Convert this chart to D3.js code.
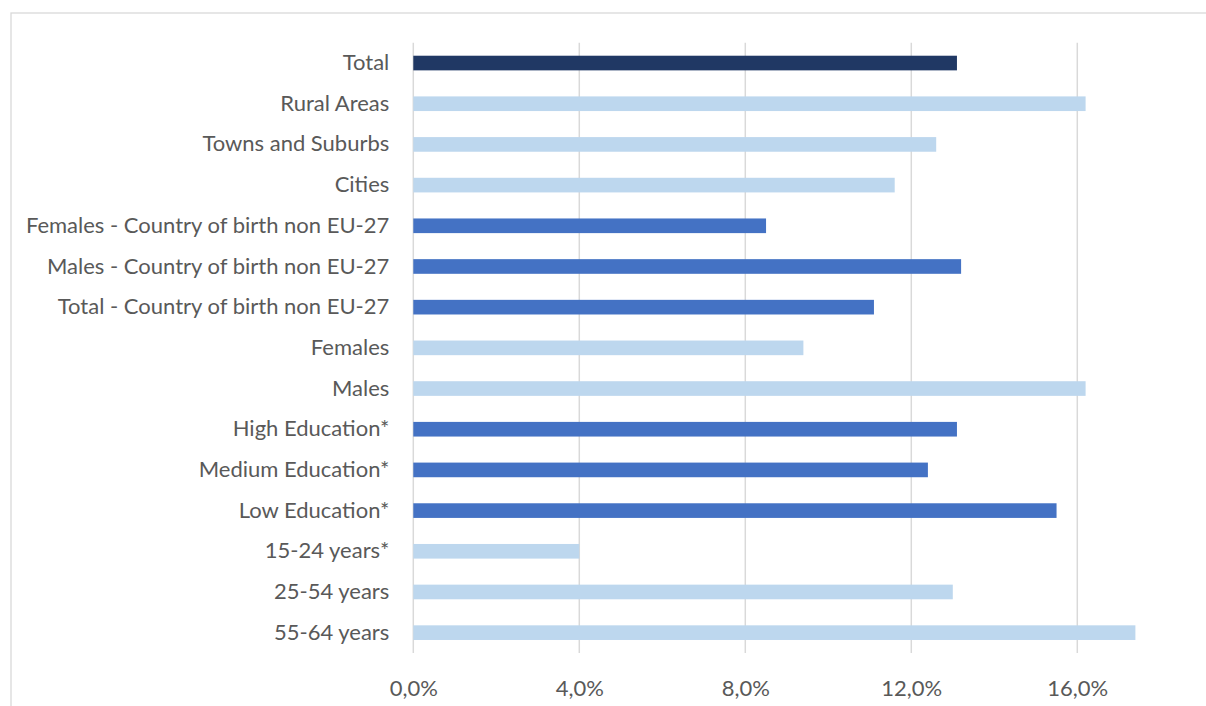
<!DOCTYPE html>
<html><head><meta charset="utf-8">
<script src="https://cdn.jsdelivr.net/npm/d3@7"></script>
<style>body{margin:0;background:#fff}svg{display:block}</style>
</head><body>
<svg id="c" width="1206" height="706"></svg>
<script>
const categories = ["Total","Rural Areas","Towns and Suburbs","Cities","Females - Country of birth non EU-27","Males - Country of birth non EU-27","Total - Country of birth non EU-27","Females","Males","High Education*","Medium Education*","Low Education*","15-24 years*","25-54 years","55-64 years"];
const values = [13.1,16.2,12.6,11.6,8.5,13.2,11.1,9.4,16.2,13.1,12.4,15.5,4.0,13.0,17.4];
const groups = ["total","light","light","light","mid","mid","mid","light","light","mid","mid","mid","light","light","light"];
const tickValues = [0,4,8,12,16];
const colors = {total:"#203864", light:"#BDD7EE", mid:"#4472C4"};

const svg = d3.select("#c");
svg.append("rect").attr("x",11).attr("y",13).attr("width",1300).attr("height",800)
  .attr("fill","none").attr("stroke","#d9d9d9").attr("stroke-width",1.3);

const x = d3.scaleLinear().domain([0,20]).range([413.3,1243.3]);
const y = d3.scaleBand().domain(categories).range([42.7,653]).paddingInner(0.64).paddingOuter(0.32);

const font = "Lato, 'Open Sans', sans-serif";
const g = svg.append("g");
g.selectAll("line.grid").data(tickValues).join("line").attr("class","grid")
  .attr("x1",d=>x(d)).attr("x2",d=>x(d)).attr("y1",42.7).attr("y2",653)
  .attr("stroke","#d9d9d9").attr("stroke-width",1.5);

g.selectAll("rect.bar").data(categories).join("rect").attr("class","bar")
  .attr("x",x(0)).attr("y",d=>y(d)).attr("height",y.bandwidth())
  .attr("width",(d,i)=>x(values[i])-x(0)).attr("fill",(d,i)=>colors[groups[i]]);

const xAxis = d3.axisBottom(x).tickValues(tickValues).tickSize(0).tickPadding(0)
  .tickFormat(d=>d.toFixed(1).replace(".",",")+"%");
const ax = svg.append("g").attr("transform","translate(0,688)").call(xAxis);
ax.select(".domain").remove();
ax.selectAll("text").attr("font-family",font).attr("font-size",22).attr("fill","#595959").attr("dy","0.35em");

const yAxis = d3.axisLeft(y).tickSize(0).tickPadding(24);
const ay = svg.append("g").attr("transform",`translate(${x(0)},0)`).call(yAxis);
ay.select(".domain").remove();
ay.selectAll("text").attr("font-family",font).attr("font-size",22).attr("fill","#595959");
</script>
</body></html>
